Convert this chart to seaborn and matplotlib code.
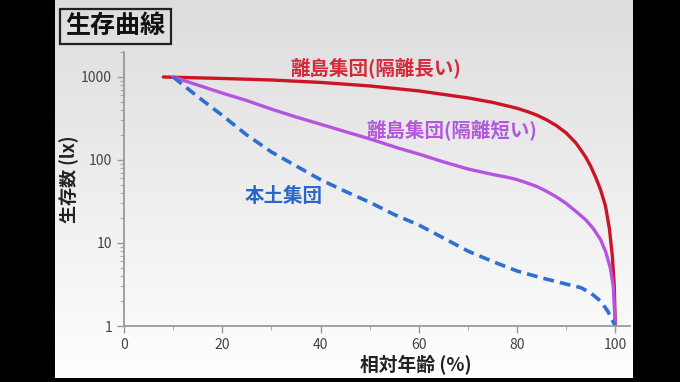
import numpy as np
import pandas as pd
import seaborn as sns
import matplotlib.pyplot as plt
from matplotlib.patches import Rectangle
from matplotlib.ticker import FixedLocator, NullFormatter

# survival curves (relative age %, survivors lx)
red_x = [8, 20, 30, 40, 50, 60, 70, 75, 80, 82, 84, 86, 88, 90, 92, 93, 94, 95, 96, 97, 98, 98.8, 99.4, 99.8, 100]
red_y = [1000, 960, 920, 860, 780, 680, 560, 495, 420, 385, 348, 305, 260, 212, 160, 132, 108, 84, 62, 44, 28, 15, 7, 3, 1]

purple_x = [10, 15, 20, 25, 30, 35, 40, 45, 50, 56, 60, 65, 70, 75, 78, 80, 82, 84, 86, 88, 90, 92, 94, 95.5, 97, 98, 99, 99.6, 100]
purple_y = [1000, 800, 640, 520, 410, 330, 270, 220, 180, 138, 118, 95, 78, 67, 62, 58, 53, 48, 42, 36, 30, 24, 19, 15, 11, 8, 5, 3, 1]

blue_x = [10, 15, 20, 25, 30, 35, 40, 45, 50, 55, 60, 65, 70, 75, 80, 85, 90, 93, 95, 97, 98.5, 100]
blue_y = [1000, 580, 345, 200, 125, 85, 58, 42, 31, 22, 16.5, 11.5, 8, 6, 4.6, 3.8, 3.2, 2.9, 2.5, 2.0, 1.5, 1]

y_ticks = [1, 10, 100, 1000]
x_ticks = [0, 20, 40, 60, 80, 100]

sns.set_style("ticks")
plt.rcParams['font.family'] = ['Noto Sans CJK JP', 'DejaVu Sans']

fig = plt.figure(figsize=(6.8, 3.82), dpi=100)

# grey-to-white background
bg = fig.add_axes([0, 0, 1, 1], zorder=-10)
grad = np.linspace(0.865, 1.0, 256).reshape(-1, 1)
bg.imshow(np.dstack([grad] * 3), aspect='auto', extent=[0, 1, 0, 1], origin='upper')
bg.set_xlim(0, 1)
bg.set_ylim(0, 1)
bg.axis('off')

# black side bands
for x0, y0, w, h in [(0, 0, 55 / 680, 1), (633 / 680, 0, 1, 1), (0, 0, 1, 4 / 382)]:
    fig.patches.append(Rectangle((x0, y0), w, h, transform=fig.transFigure,
                                 facecolor='black', edgecolor='none', zorder=5))

ax = fig.add_axes([124 / 680, 56 / 382, 506 / 680, 274 / 382])
ax.set_facecolor('none')

sns.lineplot(x=red_x, y=red_y, color='#cc1424', lw=2.4, ax=ax, sort=False)
sns.lineplot(x=purple_x, y=purple_y, color='#b654e2', lw=2.4, ax=ax, sort=False)
sns.lineplot(x=blue_x, y=blue_y, color='#2f6fd3', lw=2.6, ax=ax, sort=False,
             linestyle=(0, (3, 1.7)))

ax.set_yscale('log')
ax.set_xlim(0, 103)
ax.set_ylim(1, 2000)
ax.yaxis.set_major_locator(FixedLocator(y_ticks))
ax.set_yticklabels([str(v) for v in y_ticks])
ax.yaxis.set_minor_locator(FixedLocator([m * 10 ** e for e in range(0, 4) for m in range(2, 10)]))
ax.yaxis.set_minor_formatter(NullFormatter())
ax.set_xticks(x_ticks)
ax.set_xticks([10, 30, 50, 70, 90], minor=True)

for side in ['top', 'right']:
    ax.spines[side].set_visible(False)
for side in ['left', 'bottom']:
    ax.spines[side].set_color('#999999')
    ax.spines[side].set_linewidth(1.3)
ax.tick_params(which='major', length=5, width=1, color='#999999', labelsize=10, labelcolor='#444444')
ax.tick_params(which='minor', length=3, width=0.8, color='#aaaaaa')

ax.set_xlabel('相対年齢 (%)', fontsize=13.5, fontweight='bold', color='#222222')
ax.set_ylabel('生存数 (lx)', fontsize=13, fontweight='bold', color='#222222')
ax.xaxis.set_label_coords(0.577, -0.108)
ax.yaxis.set_label_coords(-0.088, 0.535)

ax.text(51.2, 1300, '離島集団(隔離長い)', color='#d42a3c', fontsize=14, fontweight='bold',
        ha='center', va='center')
ax.text(66.7, 230, '離島集団(隔離短い)', color='#b457dd', fontsize=14, fontweight='bold',
        ha='center', va='center')
ax.text(32.6, 36, '本土集団', color='#2a66c6', fontsize=14, fontweight='bold',
        ha='center', va='center')

fig.text(115 / 680, 1 - 26 / 382, '生存曲線', fontsize=18, fontweight='bold', color='#111111',
         ha='center', va='center',
         bbox=dict(facecolor='none', edgecolor='#222222', lw=1.6, boxstyle='square,pad=0.22'))

fig.savefig('out.png', dpi=100)
